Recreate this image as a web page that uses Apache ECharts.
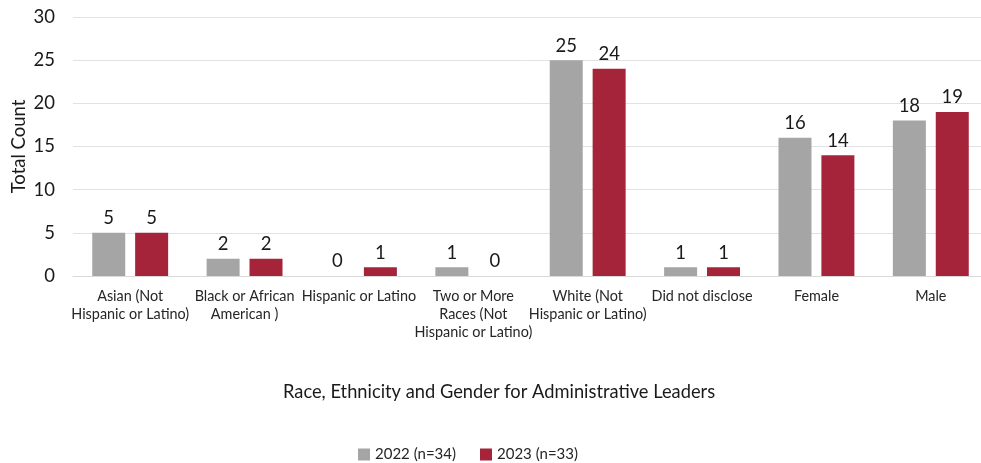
<!DOCTYPE html>
<html>
<head>
<meta charset="utf-8">
<script src="https://cdn.jsdelivr.net/npm/echarts@6/dist/echarts.min.js"></script>
<style>
  html, body { margin: 0; padding: 0; background: #fff; }
  #chart { width: 981px; height: 463px; }
</style>
</head>
<body>
<div id="chart"></div>
<script>
// Group labels along the horizontal axis
const categories = [
  'Asian (Not\nHispanic or Latino)',
  'Black or African\nAmerican )',
  'Hispanic or Latino',
  'Two or More\nRaces (Not\nHispanic or Latino)',
  'White (Not\nHispanic or Latino)',
  'Did not disclose',
  'Female',
  'Male'
];
const seriesNames = ['2022 (n=34)', '2023 (n=33)'];
const values2022 = [5, 2, 0, 1, 25, 1, 16, 18];
const values2023 = [5, 2, 1, 0, 24, 1, 14, 19];
const yTicks = [0, 5, 10, 15, 20, 25, 30];

const FONT = 'Lato, "Open Sans", sans-serif';
const GRAY = '#A5A5A5';
const RED = '#A5243A';

const chart = echarts.init(document.getElementById('chart'), null, { renderer: 'canvas' });

function barSeries(name, data, color) {
  return {
    name: name,
    type: 'bar',
    data: data,
    barWidth: 33,
    barGap: '30%',
    itemStyle: { color: color },
    label: {
      show: true,
      position: 'top',
      distance: 5,
      fontFamily: FONT,
      fontSize: 18.5,
      color: '#1a1a1a'
    }
  };
}

chart.setOption({
  animation: false,
  backgroundColor: '#fff',
  grid: {
    left: 73, top: 17, right: -7, height: 259,
    containLabel: false,
    outerBoundsMode: 'none'
  },
  legend: {
    data: seriesNames,
    left: 353,
    top: 442,
    itemWidth: 12,
    itemHeight: 12,
    itemGap: 24,
    icon: 'rect',
    textStyle: { fontFamily: FONT, fontSize: 15, color: '#262626' }
  },
  graphic: [{
    type: 'text',
    left: 283,
    top: 383,
    style: {
      text: 'Race, Ethnicity and Gender for Administrative Leaders',
      font: '18.3px ' + FONT,
      fill: '#1a1a1a'
    }
  }],
  xAxis: {
    type: 'category',
    data: categories,
    axisLine: { lineStyle: { color: '#D9D9D9' } },
    axisTick: { show: false },
    axisLabel: {
      interval: 0,
      margin: 11,
      fontFamily: FONT,
      fontSize: 14.4,
      lineHeight: 18,
      color: '#262626'
    }
  },
  yAxis: {
    type: 'value',
    min: yTicks[0],
    max: yTicks[yTicks.length - 1],
    interval: 5,
    name: 'Total Count',
    nameLocation: 'middle',
    nameGap: 44,
    nameMoveOverlap: false,
    nameTextStyle: { fontFamily: FONT, fontSize: 18.5, color: '#1a1a1a' },
    axisLine: { show: false },
    axisTick: { show: false },
    splitLine: { lineStyle: { color: '#E1E1E6' } },
    axisLabel: {
      margin: 18,
      fontFamily: FONT,
      fontSize: 18.5,
      color: '#1a1a1a'
    }
  },
  series: [
    barSeries(seriesNames[0], values2022, GRAY),
    barSeries(seriesNames[1], values2023, RED)
  ]
});
</script>
</body>
</html>
